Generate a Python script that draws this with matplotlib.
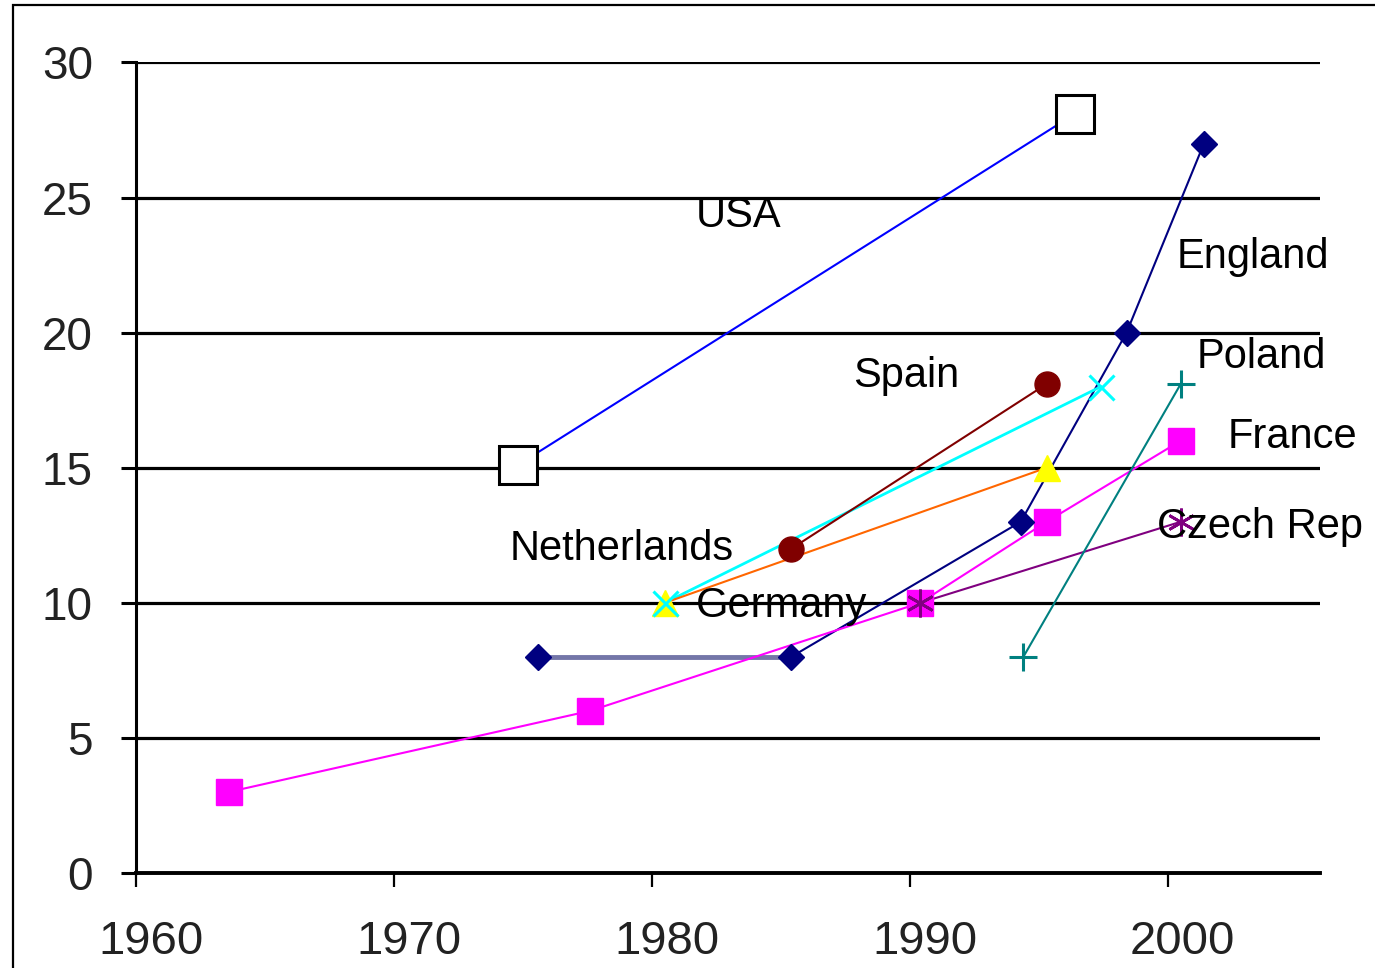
import matplotlib
matplotlib.use("Agg")
import matplotlib.pyplot as plt
from matplotlib.patches import Rectangle
from matplotlib.transforms import ScaledTranslation

plt.rcParams["font.family"] = ["Liberation Sans", "DejaVu Sans"]

# Year / value pairs per country
usa_years = [1974.8, 1996.4]
usa_vals = [15.1, 28.1]

england_years = [1975.6, 1985.4, 1994.3, 1998.4, 2001.4]
england_vals = [8.0, 8.0, 13.0, 20.0, 27.0]

spain_years = [1985.4, 1995.3]
spain_vals = [12.0, 18.1]

netherlands_years = [1980.5, 1997.4]
netherlands_vals = [10.0, 18.0]

germany_years = [1980.5, 1995.3]
germany_vals = [10.0, 15.0]

france_years = [1963.6, 1977.6, 1990.4, 1995.3, 2000.5]
france_vals = [3.0, 6.0, 10.0, 13.0, 16.0]

czech_years = [1990.4, 2000.5]
czech_vals = [10.0, 13.0]

poland_years = [1994.4, 2000.5]
poland_vals = [8.0, 18.1]

x_ticks = [1960, 1970, 1980, 1990, 2000]
y_ticks = [0, 5, 10, 15, 20, 25, 30]

# Country name labels: (text, x, y)
labels = [
    ("USA", 1981.7, 24.3),
    ("England", 2000.35, 22.8),
    ("Spain", 1987.8, 18.4),
    ("Poland", 2001.1, 19.1),
    ("France", 2002.3, 16.15),
    ("Czech Rep", 1999.6, 12.8),
    ("Netherlands", 1974.5, 12.0),
    ("Germany", 1981.7, 9.9),
]

fig = plt.figure(figsize=(13.75, 9.68), dpi=100)
ax = fig.add_axes([136 / 1375, 1 - 873 / 968, (1320 - 136) / 1375, (873 - 62.5) / 968])

# outer frame
fig.patches.append(Rectangle((13 / 1375, -0.2), 1.2, (968 - 5) / 968 + 0.2,
                             transform=fig.transFigure, fill=False,
                             edgecolor="black", linewidth=1.6))

ax.set_xlim(1960, 2005.9)
ax.set_ylim(0, 30)
ax.set_xticks(x_ticks)
ax.set_yticks(y_ticks)

for y in y_ticks[1:]:
    ax.axhline(y, color="black", lw=2.3, zorder=1)

for s in ["top", "right"]:
    ax.spines[s].set_visible(False)
ax.spines["left"].set_linewidth(2.2)
ax.spines["bottom"].set_linewidth(2.8)

ax.tick_params(axis="y", direction="out", length=11, width=2.2, pad=20, labelsize=33,
               labelcolor="#222222")
ax.tick_params(axis="x", direction="out", length=10, width=1.6, pad=24, labelsize=34,
               labelcolor="#222222")
offset = ScaledTranslation(15 / 100, 0, fig.dpi_scale_trans)
for lab in ax.get_xticklabels():
    lab.set_transform(lab.get_transform() + offset)

lw = 1.5
# USA
ax.plot(usa_years, usa_vals, color="#0000FF", lw=lw, zorder=3)
ax.plot(usa_years, usa_vals, ls="none", marker="s", ms=27, mfc="white", mec="black",
        mew=2.2, zorder=5)
# England
ax.plot(england_years[:2], england_vals[:2], color="#7476A8", lw=3.5, zorder=3)
ax.plot(england_years[1:], england_vals[1:], color="#000080", lw=lw, zorder=3)
ax.plot(england_years, england_vals, ls="none", marker="D", ms=13, color="#000080", zorder=5)
# Spain
ax.plot(spain_years, spain_vals, color="#800000", lw=lw, marker="o", ms=18,
        zorder=4)
# Netherlands
ax.plot(netherlands_years, netherlands_vals, color="#00FFFF", lw=2, zorder=3)
# Germany
ax.plot(germany_years, germany_vals, color="#FF6600", lw=lw, zorder=3)
ax.plot(germany_years, germany_vals, ls="none", marker="^", ms=19, color="#FFFF00",
        zorder=5)
ax.plot(netherlands_years, netherlands_vals, ls="none", marker="x", ms=18, mew=2.2,
        color="#00FFFF", zorder=6)
# France
ax.plot(france_years, france_vals, color="#FF00FF", lw=lw, marker="s", ms=19,
        zorder=4)
# Czech Rep
ax.plot(czech_years, czech_vals, color="#800080", lw=lw, zorder=3)
ax.plot(czech_years, czech_vals, ls="none", marker=(6, 2, 0), ms=20, mew=2,
        color="#800080", zorder=6)
# Poland
ax.plot(poland_years, poland_vals, color="#008080", lw=lw, marker="+", ms=20, mew=2.2,
        zorder=4)

for text, x, y in labels:
    ax.text(x, y, text, fontsize=30, color="black", ha="left", va="center", zorder=7)

fig.savefig("out.png", dpi=100)
